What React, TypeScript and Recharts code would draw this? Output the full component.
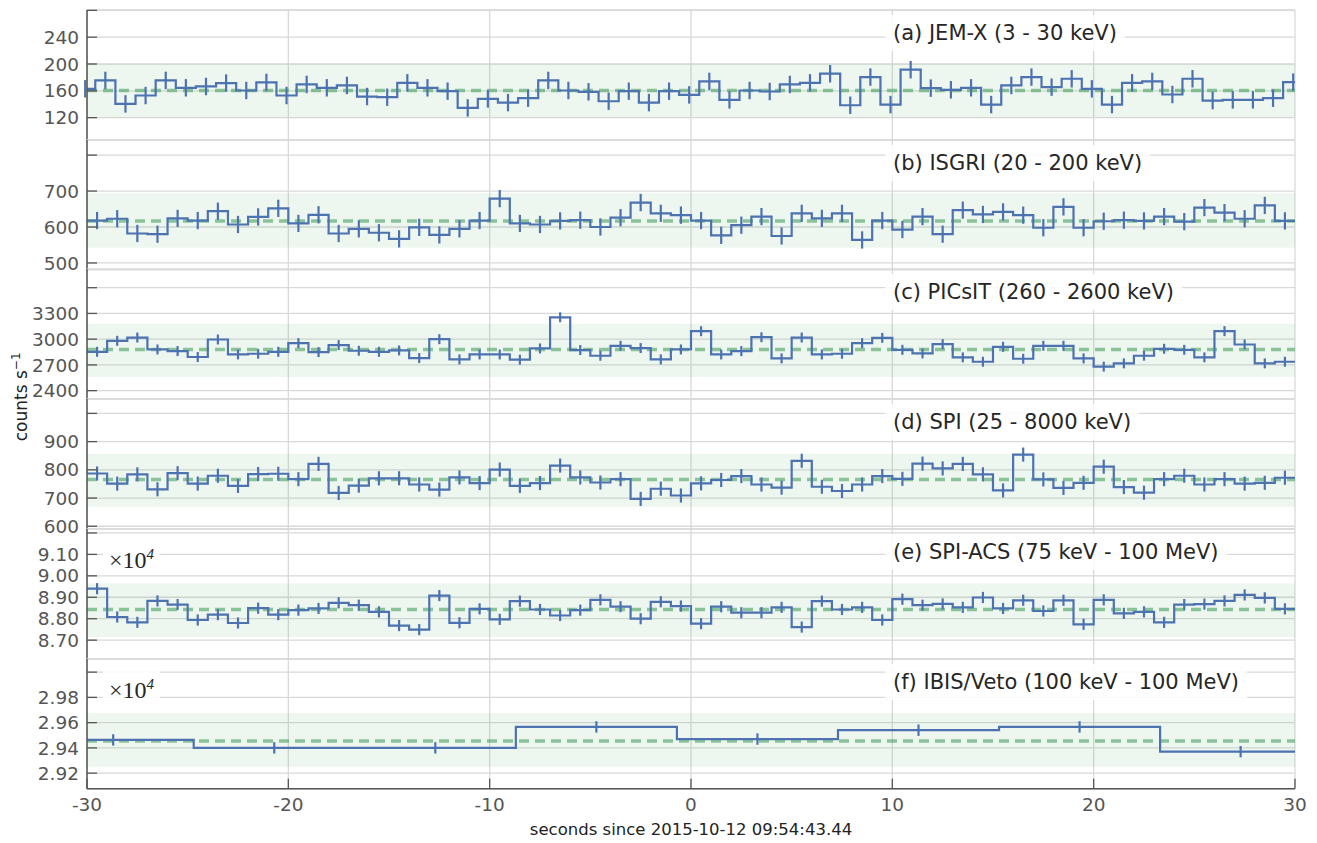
import React from "react";
import {
  ComposedChart,
  Line,
  Scatter,
  ErrorBar,
  XAxis,
  YAxis,
  CartesianGrid,
  ReferenceArea,
  ReferenceLine,
} from "recharts";

const X_TICKS = [-30, -20, -10, 0, 10, 20, 30];

// (a) JEM-X, 1 s bins, first and last bins only partly visible
const jemxRates = [
  163, 175.5, 140.5, 153, 175.5, 164.5, 166.5, 171.5, 160.5, 172.5,
  153, 169.5, 164.5, 168, 151.5, 150.5, 172, 164.5, 159.5, 134.5,
  148, 142.5, 149, 175.5, 160.5, 158.5, 144.5, 159.5, 142.5, 159.5,
  154, 174, 146.5, 160.5, 159, 169.5, 172, 185.5, 138.5, 180.5,
  139.5, 191.5, 164, 161.5, 164.5, 139.5, 168, 180.5, 165.5, 178,
  163, 139.5, 172, 174, 154.5, 178, 145.5, 146.5, 146.5, 149, 173,
];
const jemxTicks = [120, 160, 200, 240, 280];

// (b) ISGRI
const isgriRates = [
  618, 623, 582, 580, 624, 618, 644, 607, 628, 652,
  610, 634, 582, 595, 584, 567, 599, 578, 595, 618,
  679, 610, 607, 617, 619, 600, 626, 668, 638, 633,
  618, 577, 605, 629, 575, 638, 624, 638, 564, 618,
  593, 629, 580, 647, 635, 642, 633, 598, 656, 598,
  616, 619, 617, 629, 615, 654, 640, 623, 660, 617,
];
const isgriTicks = [500, 600, 700, 800];

// (c) PICsIT
const picsitRates = [
  2853, 2981, 3019, 2880, 2861, 2792, 2996, 2822, 2830, 2853,
  2954, 2849, 2931, 2865, 2853, 2869, 2780, 3000, 2764, 2822,
  2822, 2761, 2892, 3255, 2873, 2807, 2923, 2896, 2764, 2880,
  3093, 2822, 2861, 3023, 2776, 3019, 2822, 2830, 2954, 3015,
  2876, 2834, 2942, 2788, 2737, 2911, 2772, 2923, 2923, 2776,
  2680, 2718, 2807, 2888, 2876, 2788, 3093, 2938, 2718, 2737,
];
const picsitTicks = [2400, 2700, 3000, 3300, 3600];

// (d) SPI
const spiRates = [
  787, 751, 784, 731, 788, 751, 779, 743, 785, 786,
  767, 821, 718, 744, 770, 770, 748, 730, 773, 753,
  801, 743, 753, 815, 773, 755, 767, 697, 733, 709,
  752, 764, 778, 748, 737, 832, 740, 725, 748, 778,
  768, 822, 805, 821, 784, 727, 854, 766, 736, 754,
  811, 739, 719, 767, 779, 748, 767, 751, 754, 772,
];
const spiTicks = [600, 700, 800, 900, 1000];

// (e) SPI-ACS
const acsRates = [
  89400, 88080, 87830, 88830, 88660, 87940, 88190, 87800, 88490, 88190,
  88400, 88480, 88740, 88630, 88320, 87680, 87490, 89080, 87810, 88460,
  87970, 88820, 88430, 88150, 88400, 88880, 88560, 88000, 88790, 88590,
  87770, 88560, 88280, 88280, 88530, 87610, 88820, 88430, 88530, 87940,
  88910, 88630, 88690, 88530, 88990, 88480, 88860, 88360, 88860, 87740,
  88880, 88250, 88320, 87830, 88660, 88680, 88830, 89110, 88970, 88460,
];
const acsTicks = [87000, 88000, 89000, 90000, 91000, 92000];

// (f) IBIS/Veto, 8 s bins
const vetoRates = [29463, 29400, 29400, 29566, 29470, 29540, 29566, 29370];
const vetoTicks = [29200, 29400, 29600, 29800, 30000];

const panels = [
  { label: "(a) JEM-X (3 - 30 keV)", rates: jemxRates, start: -30.59, width: 1, err: 13, mean: 160.5, band: [120.5, 200.5], domain: [87, 280.5], ticks: jemxTicks, scaled: false },
  { label: "(b) ISGRI (20 - 200 keV)", rates: isgriRates, start: -30, width: 1, err: 24, mean: 617, band: [542, 694], domain: [481, 842], ticks: isgriTicks, scaled: false },
  { label: "(c) PICsIT (260 - 2600 keV)", rates: picsitRates, start: -30, width: 1, err: 58, mean: 2880, band: [2560, 3181], domain: [2305, 3818], ticks: picsitTicks, scaled: false },
  { label: "(d) SPI (25 - 8000 keV)", rates: spiRates, start: -30, width: 1, err: 25, mean: 766, band: [669, 857], domain: [591, 1051], ticks: spiTicks, scaled: false },
  { label: "(e) SPI-ACS (75 keV - 100 MeV)", rates: acsRates, start: -30, width: 1, err: 260, mean: 88430, band: [87150, 89640], domain: [86130, 92185], ticks: acsTicks, scaled: true },
  { label: "(f) IBIS/Veto (100 keV - 100 MeV)", rates: vetoRates, start: -32.7, width: 8, err: 45, mean: 29455, band: [29250, 29677], domain: [29076, 30104], ticks: vetoTicks, scaled: true },
];

const BLUE = "#4c72b0";
const GREEN = "#55a868";
const FRAME = "#555555";
const FONT = "DejaVu Sans, sans-serif";
const PLOT_TOP = 9.7;
const PLOT_H = 129.8;

function stepRows(start: number, width: number, rates: number[]) {
  const rows = rates.map((v, i) => ({ t: start + i * width, v }));
  rows.push({ t: start + rates.length * width, v: rates[rates.length - 1] });
  return rows;
}

function barRows(start: number, width: number, rates: number[], err: number) {
  return rates.map((v, i) => ({ t: start + (i + 0.5) * width, v, e: err }));
}

function Panel({ p, index, last }: { p: any; index: number; last: boolean }) {
  const top = PLOT_TOP + index * PLOT_H;
  const axisH = last ? 34 : 0;
  const maxTick = p.ticks[p.ticks.length - 1];
  const fmt = (v: number) => (p.scaled ? (v / 1e4).toFixed(2) : String(v));

  const leftTick = (props: any) => {
    const { x, y, payload } = props;
    return (
      <g>
        <line x1={x} x2={x + 10} y1={y} y2={y} stroke={FRAME} strokeWidth={1.3} />
        {payload.value !== maxTick && (
          <text x={x - 8} y={y} dy="0.36em" textAnchor="end" fontSize={18.5} fontFamily={FONT} fill="#555">
            {fmt(payload.value)}
          </text>
        )}
      </g>
    );
  };
  const rightTick = (props: any) => (
    <line x1={props.x} x2={props.x - 10} y1={props.y} y2={props.y} stroke={FRAME} strokeWidth={1.3} />
  );
  const topTick = (props: any) => (
    <line x1={props.x} x2={props.x} y1={props.y} y2={props.y + 10} stroke={FRAME} strokeWidth={1.3} />
  );
  const bottomTick = (props: any) => {
    const { x, y, payload } = props;
    return (
      <g>
        <line x1={x} x2={x} y1={y} y2={y - 10} stroke={FRAME} strokeWidth={1.3} />
        {last && (
          <text x={x} y={y + 16} dy="0.36em" textAnchor="middle" fontSize={18.5} fontFamily={FONT} fill="#555">
            {payload.value}
          </text>
        )}
      </g>
    );
  };

  return (
    <>
      <div style={{ position: "absolute", left: 0, top: top - 10 }}>
        <ComposedChart
          width={1317}
          height={10 + PLOT_H + (last ? axisH : 10)}
          margin={{ top: 10, right: 22, bottom: last ? 0 : 10, left: 0 }}
        >
          <CartesianGrid stroke="#d9d9d9" strokeWidth={1.3} />
          <ReferenceArea y1={p.band[0]} y2={p.band[1]} fill={GREEN} fillOpacity={0.1} stroke="none" />
          <ReferenceLine y={p.mean} stroke={GREEN} strokeOpacity={0.65} strokeWidth={3.5} strokeDasharray="10 6" />
          <XAxis
            type="number"
            dataKey="t"
            domain={[-30, 30]}
            ticks={X_TICKS}
            interval={0}
            allowDataOverflow
            height={axisH}
            tickSize={0}
            tickMargin={0}
            tickLine={false}
            axisLine={{ stroke: FRAME, strokeWidth: 1.5 }}
            tick={bottomTick}
          />
          <XAxis
            xAxisId="top"
            orientation="top"
            type="number"
            domain={[-30, 30]}
            ticks={X_TICKS}
            interval={0}
            allowDataOverflow
            height={0}
            tickSize={0}
            tickMargin={0}
            tickLine={false}
            axisLine={{ stroke: FRAME, strokeWidth: 1.5 }}
            tick={topTick}
          />
          <YAxis
            type="number"
            domain={p.domain}
            ticks={p.ticks}
            interval={0}
            allowDataOverflow
            width={87}
            tickSize={0}
            tickMargin={0}
            tickLine={false}
            axisLine={{ stroke: FRAME, strokeWidth: 1.5 }}
            tick={leftTick}
          />
          <YAxis
            yAxisId="right"
            orientation="right"
            type="number"
            domain={p.domain}
            ticks={p.ticks}
            interval={0}
            allowDataOverflow
            width={0}
            tickSize={0}
            tickMargin={0}
            tickLine={false}
            axisLine={{ stroke: FRAME, strokeWidth: 1.5 }}
            tick={rightTick}
          />
          <Line
            data={stepRows(p.start, p.width, p.rates)}
            dataKey="v"
            type="stepAfter"
            stroke={BLUE}
            strokeWidth={2.2}
            dot={false}
            isAnimationActive={false}
          />
          <Scatter
            data={barRows(p.start, p.width, p.rates, p.err)}
            dataKey="v"
            shape={() => <g />}
            isAnimationActive={false}
          >
            <ErrorBar dataKey="e" direction="y" width={0} stroke={BLUE} strokeWidth={2.2} isAnimationActive={false} />
          </Scatter>
        </ComposedChart>
      </div>
      <div
        style={{
          position: "absolute",
          left: 885,
          top: top + 5,
          height: 36,
          lineHeight: "36px",
          padding: "0 8px",
          background: "rgba(255,255,255,0.85)",
          fontFamily: FONT,
          fontSize: 21,
          color: "#262626",
          whiteSpace: "nowrap",
        }}
      >
        {p.label}
      </div>
      {p.scaled && (
        <div
          style={{
            position: "absolute",
            left: 103,
            top: top + 10,
            height: 30,
            lineHeight: "30px",
            padding: "0 6px",
            background: "rgba(255,255,255,0.85)",
            fontFamily: "Liberation Serif, serif",
            fontSize: 24,
            color: "#262626",
          }}
        >
          ×10<sup style={{ fontSize: 15, fontStyle: "italic" }}>4</sup>
        </div>
      )}
    </>
  );
}

export default function App() {
  return (
    <div style={{ position: "absolute", left: 0, top: 0, width: 1317, height: 843, background: "#fff" }}>
      {panels.map((p, i) => (
        <Panel key={p.label} p={p} index={i} last={i === panels.length - 1} />
      ))}
      <div
        style={{
          position: "absolute",
          left: -80,
          top: 386,
          width: 200,
          textAlign: "center",
          transform: "rotate(-90deg)",
          fontFamily: FONT,
          fontSize: 17,
          color: "#222",
        }}
      >
        counts s<sup style={{ fontSize: 12 }}>−1</sup>
      </div>
      <div
        style={{
          position: "absolute",
          left: 0,
          top: 820,
          width: 1382,
          textAlign: "center",
          fontFamily: FONT,
          fontSize: 16.5,
          color: "#222",
        }}
      >
        seconds since 2015-10-12 09:54:43.44
      </div>
    </div>
  );
}
